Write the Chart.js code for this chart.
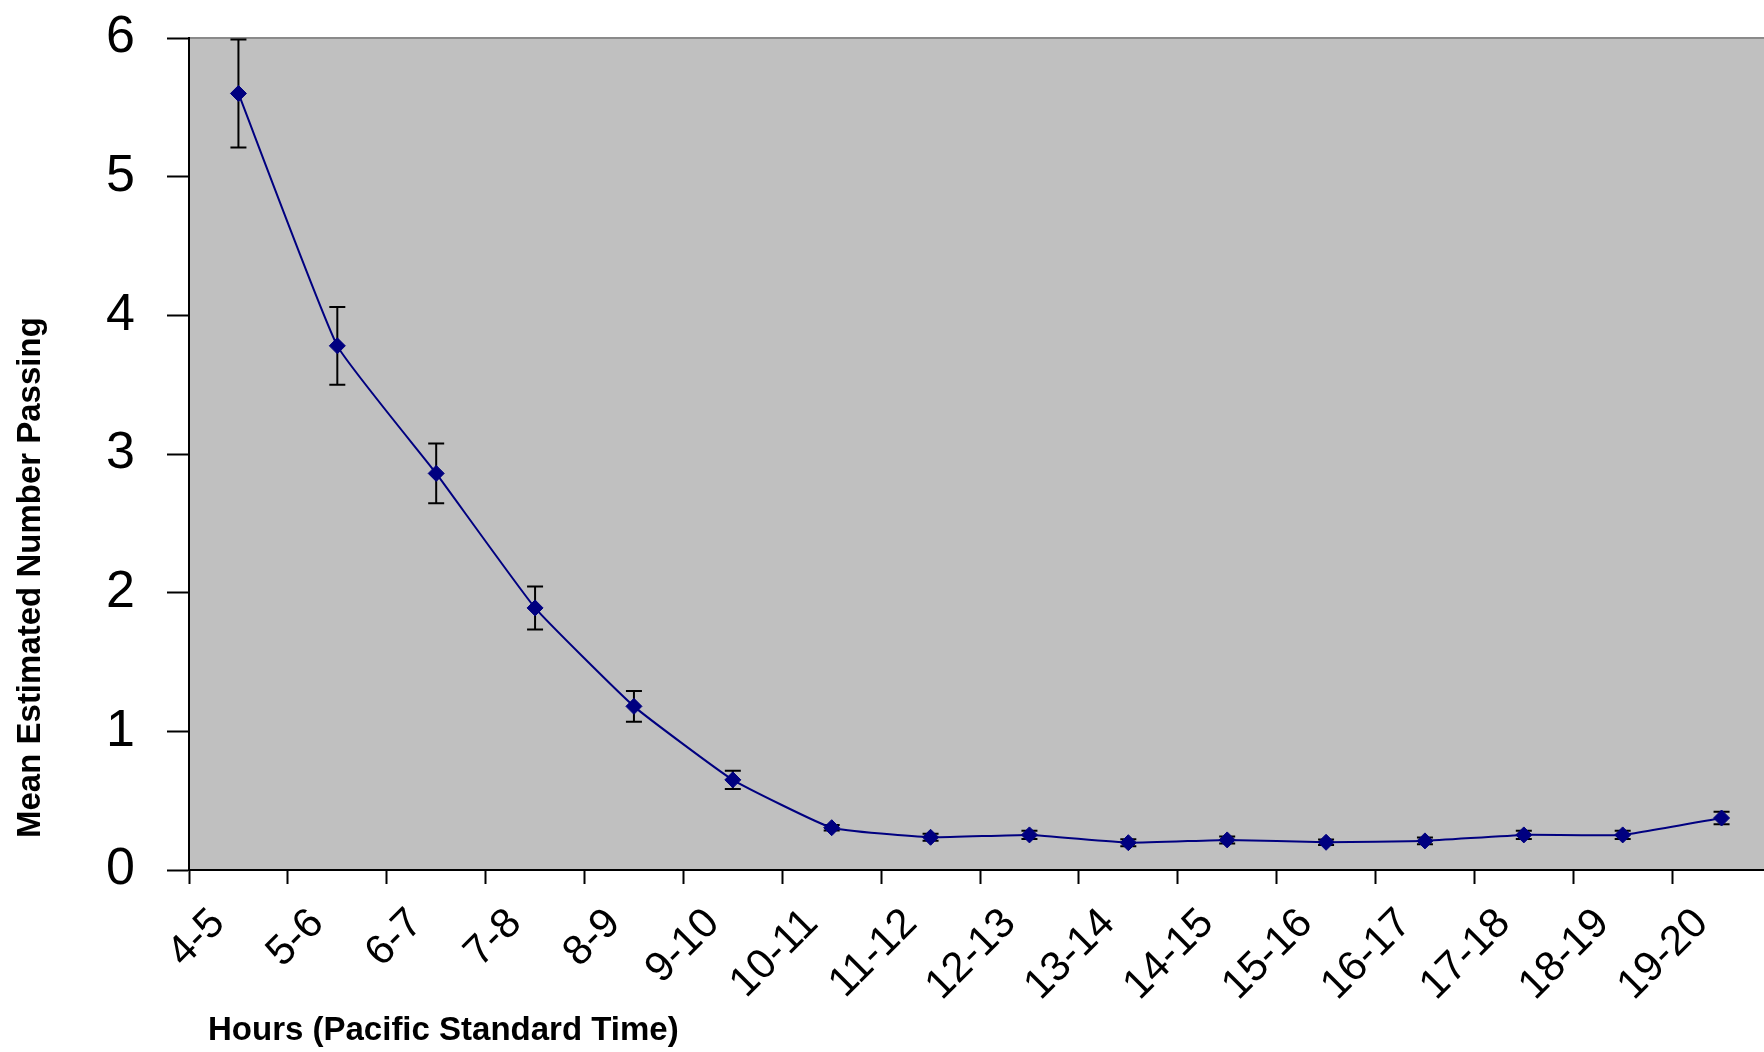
<!DOCTYPE html>
<html>
<head>
<meta charset="utf-8">
<script src="https://cdn.jsdelivr.net/npm/chart.js@4.4.0/dist/chart.umd.min.js"></script>
<style>
html,body{margin:0;padding:0;background:#fff;overflow:hidden;width:1764px;height:1052px}
#wrap{width:1780px;height:1052px}
</style>
</head>
<body>
<div id="wrap"><canvas id="c" width="1780" height="1052"></canvas></div>
<script>
const categories = ['4-5','5-6','6-7','7-8','8-9','9-10','10-11','11-12','12-13','13-14','14-15','15-16','16-17','17-18','18-19','19-20'];
const meanPassing = [5.60, 3.78, 2.86, 1.89, 1.18, 0.65, 0.305, 0.236, 0.253, 0.197, 0.217, 0.20, 0.21, 0.253, 0.253, 0.375];
const errorHalf = [0.39, 0.28, 0.215, 0.155, 0.11, 0.065, 0.02, 0.025, 0.03, 0.025, 0.025, 0.02, 0.025, 0.03, 0.03, 0.045];
const yMin = 0, yMax = 6, yStep = 1;
const xTitle = 'Hours (Pacific Standard Time)';
const yTitle = 'Mean Estimated Number Passing';

const FONT = "'Liberation Sans', Arial, sans-serif";

const backgroundPlugin = {
  id: 'plotBg',
  beforeDraw(chart) {
    const {ctx, chartArea: a} = chart;
    ctx.save();
    ctx.fillStyle = '#c0c0c0';
    ctx.fillRect(a.left, a.top, a.right - a.left, a.bottom - a.top);
    ctx.strokeStyle = '#8a8a8a';
    ctx.lineWidth = 2;
    ctx.beginPath();
    ctx.moveTo(a.left, a.top);
    ctx.lineTo(a.right + 10, a.top);
    ctx.stroke();
    ctx.restore();
  }
};

const errorBarPlugin = {
  id: 'errorBars',
  beforeDatasetsDraw(chart) {
    const {ctx} = chart;
    const xs = chart.scales.x, ys = chart.scales.y;
    ctx.save();
    ctx.strokeStyle = '#000000';
    ctx.lineWidth = 2;
    meanPassing.forEach((v, i) => {
      const px = xs.getPixelForValue(i);
      const top = ys.getPixelForValue(v + errorHalf[i]);
      const bot = ys.getPixelForValue(v - errorHalf[i]);
      ctx.beginPath();
      ctx.moveTo(px, top); ctx.lineTo(px, bot);
      ctx.moveTo(px - 8, top); ctx.lineTo(px + 8, top);
      ctx.moveTo(px - 8, bot); ctx.lineTo(px + 8, bot);
      ctx.stroke();
    });
    ctx.restore();
  }
};

const titlePlugin = {
  id: 'axisTitles',
  afterDraw(chart) {
    const {ctx, chartArea: a} = chart;
    ctx.save();
    ctx.fillStyle = '#000';
    ctx.font = 'bold 33px ' + FONT;
    ctx.textBaseline = 'middle';
    ctx.textAlign = 'left';
    ctx.fillText(xTitle, a.left + 19, chart.height - 21);
    ctx.translate(31, a.bottom - 32);
    ctx.rotate(-Math.PI / 2);
    ctx.fillText(yTitle, 0, 0);
    ctx.restore();
  }
};

new Chart(document.getElementById('c'), {
  type: 'line',
  data: {
    labels: categories,
    datasets: [{
      data: meanPassing,
      borderColor: '#000080',
      borderWidth: 2,
      backgroundColor: '#000080',
      pointStyle: 'rectRot',
      pointRadius: 8,
      pointBackgroundColor: '#000080',
      pointBorderColor: '#000080',
      pointBorderWidth: 1,
      tension: 0.12,
      fill: false,
      clip: false
    }]
  },
  options: {
    responsive: false,
    devicePixelRatio: 1,
    animation: false,
    events: [],
    layout: { padding: { left: 106, top: 38, right: 7, bottom: 0 } },
    plugins: { legend: { display: false }, tooltip: { enabled: false }, title: { display: false } },
    scales: {
      x: {
        type: 'category',
        offset: true,
        grid: { display: true, drawOnChartArea: false, offset: true, tickLength: 14, tickColor: '#000', tickWidth: 2 },
        border: { display: true, color: '#000', width: 2 },
        ticks: {
          autoSkip: false, minRotation: 45, maxRotation: 45,
          padding: 15, labelOffset: -20,
          color: '#000', font: { family: FONT, size: 42 }
        },
        afterFit(scale) { scale.height = 182; scale.paddingLeft = 0; scale.paddingRight = 0; }
      },
      y: {
        min: yMin, max: yMax,
        grid: { display: true, drawOnChartArea: false, tickLength: 22, tickColor: '#000', tickWidth: 2 },
        border: { display: true, color: '#000', width: 2 },
        ticks: { stepSize: yStep, padding: 32, color: '#000', font: { family: FONT, size: 52 } },
        afterFit(scale) { scale.width = 83; scale.paddingTop = 0; scale.paddingBottom = 0; }
      }
    }
  },
  plugins: [backgroundPlugin, errorBarPlugin, titlePlugin]
});
</script>
</body>
</html>
